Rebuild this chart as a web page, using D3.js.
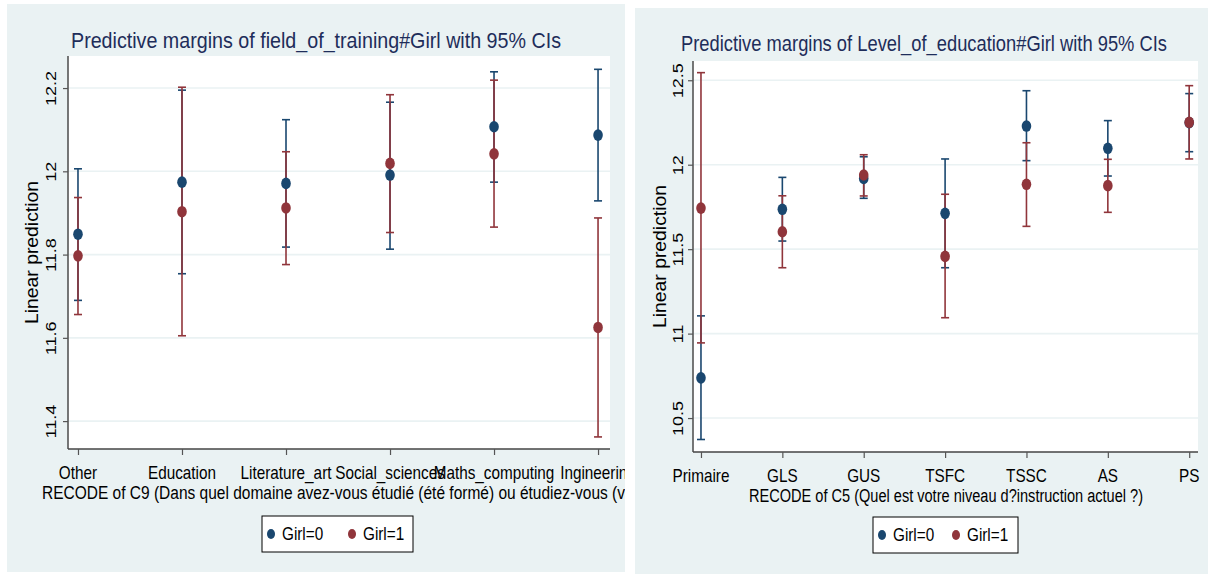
<!DOCTYPE html>
<html>
<head>
<meta charset="utf-8">
<script src="https://cdn.jsdelivr.net/npm/d3@7"></script>
<style>
  body { margin: 0; background: #fff; }
  svg { display: block; }
  text { font-family: "Liberation Sans", Arial, sans-serif; }
</style>
</head>
<body>
<div id="chart"></div>
<script>
// ---- data: [estimate, lower 95% CI, upper 95% CI] ----
var fieldCats = ["Other", "Education", "Literature_art", "Social_sciences", "Maths_computing", "Ingineering"];
var fieldGirl0 = [[11.849, 11.690, 12.006], [11.974, 11.754, 12.195], [11.971, 11.818, 12.124],
                  [11.991, 11.813, 12.166], [12.107, 11.974, 12.239], [12.087, 11.929, 12.245]];
var fieldGirl1 = [[11.797, 11.656, 11.937], [11.903, 11.605, 12.202], [11.912, 11.776, 12.047],
                  [12.019, 11.853, 12.184], [12.042, 11.866, 12.219], [11.625, 11.362, 11.888]];
var fieldTicks = [11.4, 11.6, 11.8, 12, 12.2];

var levelCats = ["Primaire", "GLS", "GUS", "TSFC", "TSSC", "AS", "PS"];
var levelGirl0 = [[10.738, 10.373, 11.105], [11.736, 11.548, 11.925], [11.919, 11.801, 12.047],
                  [11.712, 11.390, 12.034], [12.229, 12.024, 12.438], [12.097, 11.933, 12.261],
                  [12.249, 12.077, 12.421]];
var levelGirl1 = [[11.743, 10.945, 12.545], [11.603, 11.390, 11.816], [11.939, 11.815, 12.059],
                  [11.457, 11.094, 11.825], [11.884, 11.635, 12.130], [11.876, 11.718, 12.032],
                  [12.251, 12.034, 12.468]];
var levelTicks = [10.5, 11, 11.5, 12, 12.5];

var seriesNames = ["Girl=0", "Girl=1"];
var seriesColors = ["#1a476f", "#90353b"];

var W = 1208, H = 575, SQ = 0.85; // horizontal squish of the original picture

var svg = d3.select("#chart").append("svg")
    .attr("width", W)
    .attr("height", H);

function sqText(g, x, y, str, size, anchor, fill) {
  return g.append("text")
      .attr("transform", "translate(" + x + "," + y + ") scale(" + SQ + ",1)")
      .attr("text-anchor", anchor)
      .attr("font-size", size)
      .attr("fill", fill || "#000")
      .text(str);
}

function drawPanel(cfg, id) {
  var g = svg.append("g");
  var p = g;

  if (cfg.clip) {
    g.append("clipPath").attr("id", "clip" + id)
      .append("rect")
        .attr("x", cfg.bg[0]).attr("y", cfg.bg[1])
        .attr("width", cfg.bg[2] - cfg.bg[0]).attr("height", cfg.bg[3] - cfg.bg[1]);
    p = g.append("g").attr("clip-path", "url(#clip" + id + ")");
  }

  p.append("rect")
      .attr("x", cfg.bg[0]).attr("y", cfg.bg[1])
      .attr("width", cfg.bg[2] - cfg.bg[0]).attr("height", cfg.bg[3] - cfg.bg[1])
      .attr("fill", "#eaf2f3");

  var x = d3.scaleLinear().domain(cfg.xDomain).range([cfg.plot[0], cfg.plot[2]]);
  var y = d3.scaleLinear().domain(cfg.yDomain).range([cfg.plot[3], cfg.plot[1]]);

  p.append("rect")
      .attr("x", cfg.plot[0]).attr("y", cfg.plot[1])
      .attr("width", cfg.plot[2] - cfg.plot[0]).attr("height", cfg.plot[3] - cfg.plot[1])
      .attr("fill", "#fff");

  // gridlines
  p.append("g").selectAll("line")
      .data(cfg.ticks)
    .enter().append("line")
      .attr("x1", cfg.plot[0]).attr("x2", cfg.plot[2])
      .attr("y1", function(d) { return y(d); }).attr("y2", function(d) { return y(d); })
      .attr("stroke", "#eaf2f3").attr("stroke-width", 1.6);

  // y axis
  var yAxis = p.append("g")
      .attr("transform", "translate(" + cfg.plot[0] + ",0)")
      .call(d3.axisLeft(y).tickValues(cfg.ticks).tickSize(5).tickFormat(d3.format("")));
  yAxis.select(".domain").attr("stroke", "#555").attr("stroke-width", 1.6)
      .attr("d", "M0," + cfg.plot[3] + "V" + cfg.plot[1]);
  yAxis.selectAll(".tick line").attr("stroke", "#555").attr("stroke-width", 1.2);
  yAxis.selectAll(".tick text")
      .attr("font-size", 18)
      .attr("x", null).attr("dy", null)
      .attr("text-anchor", "middle")
      .attr("transform", "translate(" + (cfg.yLabelX - cfg.plot[0] + 6) + ",0) scale(" + SQ + ",1) rotate(-90)")
      .attr("fill", "#000");

  // x axis
  var xAxis = p.append("g")
      .attr("transform", "translate(0," + cfg.plot[3] + ")")
      .call(d3.axisBottom(x).tickValues(d3.range(cfg.cats.length)).tickSize(6).tickFormat(""));
  xAxis.select(".domain").attr("stroke", "#444").attr("stroke-width", 1.6)
      .attr("d", "M" + cfg.plot[0] + ",0H" + cfg.plot[2]);
  xAxis.selectAll(".tick line").attr("stroke", "#555").attr("stroke-width", 1.2);

  cfg.cats.forEach(function(c, i) {
    sqText(p, x(i), cfg.xLabelY, c, 18, "middle");
  });

  // titles
  p.append("text")
      .attr("x", cfg.titlePos[0]).attr("y", cfg.titlePos[1])
      .attr("font-size", 22).attr("fill", "#1e2d5a")
      .attr("textLength", cfg.titlePos[2]).attr("lengthAdjust", "spacingAndGlyphs")
      .text(cfg.title);

  p.append("text")
      .attr("x", cfg.xTitlePos[0]).attr("y", cfg.xTitlePos[1])
      .attr("font-size", 18)
      .attr("textLength", cfg.xTitlePos[2]).attr("lengthAdjust", "spacingAndGlyphs")
      .text(cfg.xTitle);

  var cy = (cfg.plot[1] + cfg.plot[3]) / 2;
  p.append("text")
      .attr("transform", "translate(" + cfg.yTitleX + "," + cy + ") rotate(-90)")
      .attr("text-anchor", "middle")
      .attr("font-size", 18)
      .attr("textLength", 143).attr("lengthAdjust", "spacingAndGlyphs")
      .text("Linear prediction");

  // confidence intervals
  [cfg.s0, cfg.s1].forEach(function(series, k) {
    var ci = p.append("g").attr("stroke", seriesColors[k]).attr("stroke-width", 1.6);
    ci.selectAll("line.v").data(series).enter().append("line")
        .attr("x1", function(d, i) { return x(i); }).attr("x2", function(d, i) { return x(i); })
        .attr("y1", function(d) { return y(d[1]); }).attr("y2", function(d) { return y(d[2]); });
    ci.selectAll("line.lo").data(series).enter().append("line")
        .attr("x1", function(d, i) { return x(i) - 4; }).attr("x2", function(d, i) { return x(i) + 4; })
        .attr("y1", function(d) { return y(d[1]); }).attr("y2", function(d) { return y(d[1]); });
    ci.selectAll("line.hi").data(series).enter().append("line")
        .attr("x1", function(d, i) { return x(i) - 4; }).attr("x2", function(d, i) { return x(i) + 4; })
        .attr("y1", function(d) { return y(d[2]); }).attr("y2", function(d) { return y(d[2]); });
  });

  // point estimates
  [cfg.s0, cfg.s1].forEach(function(series, k) {
    p.append("g").selectAll("ellipse").data(series).enter().append("ellipse")
        .attr("cx", function(d, i) { return x(i); })
        .attr("cy", function(d) { return y(d[0]); })
        .attr("rx", 4.8).attr("ry", 5.8)
        .attr("fill", seriesColors[k]);
  });

  // legend
  var L = cfg.legend;
  p.append("rect")
      .attr("x", L[0]).attr("y", L[1]).attr("width", L[2]).attr("height", 36)
      .attr("fill", "#fff").attr("stroke", "#000").attr("stroke-width", 1);
  seriesNames.forEach(function(name, k) {
    var mx = L[0] + 9 + k * L[3];
    p.append("ellipse")
        .attr("cx", mx).attr("cy", L[1] + 18).attr("rx", 4).attr("ry", 5)
        .attr("fill", seriesColors[k]);
    sqText(p, mx + 11, L[1] + 24, name, 18, "start");
  });
}

drawPanel({
  bg: [7, 4, 625, 572],
  clip: true,
  plot: [68, 56, 610, 449],
  xDomain: [-0.096, 5.115],
  yDomain: [11.333, 12.277],
  cats: fieldCats, s0: fieldGirl0, s1: fieldGirl1, ticks: fieldTicks,
  yLabelX: 50, yTitleX: 38, xLabelY: 479,
  title: "Predictive margins of field_of_training#Girl with 95% CIs",
  titlePos: [71, 48, 490],
  xTitle: "RECODE of C9 (Dans quel domaine avez-vous étudié (été formé) ou étudiez-vous (v",
  xTitlePos: [42, 499, 583],
  legend: [262, 516, 151, 81]
}, 1);

drawPanel({
  bg: [635, 8, 1208, 574],
  clip: false,
  plot: [693, 61, 1198, 452],
  xDomain: [-0.098, 6.108],
  yDomain: [10.299, 12.614],
  cats: levelCats, s0: levelGirl0, s1: levelGirl1, ticks: levelTicks,
  yLabelX: 677, yTitleX: 666, xLabelY: 482,
  title: "Predictive margins of Level_of_education#Girl with 95% CIs",
  titlePos: [681, 51, 486],
  xTitle: "RECODE of C5 (Quel est votre niveau d?instruction actuel ?)",
  xTitlePos: [749, 502, 394],
  legend: [873, 517, 145, 74]
}, 2);
</script>
</body>
</html>
